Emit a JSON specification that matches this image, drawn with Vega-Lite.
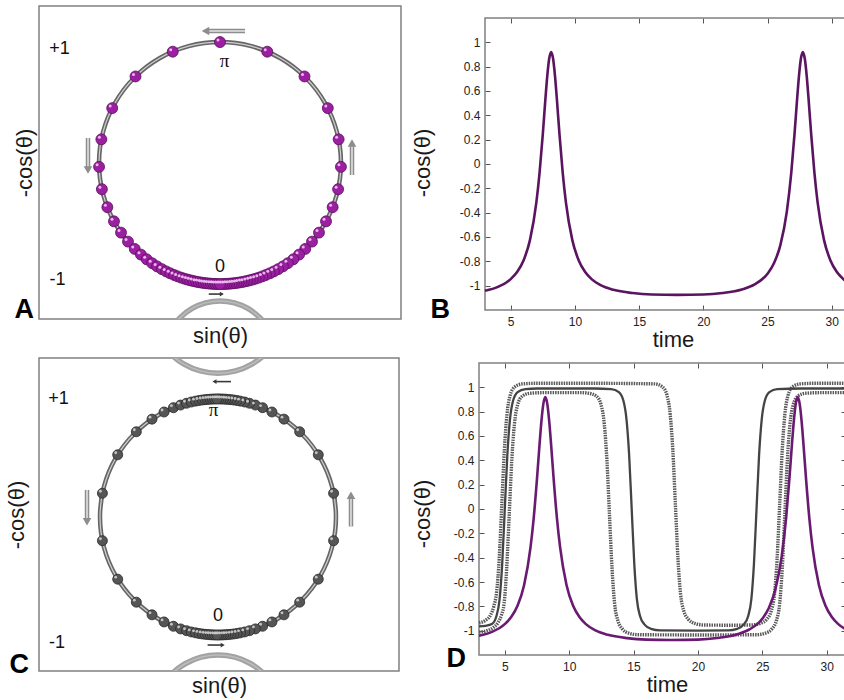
{
"$schema":"https://vega.github.io/schema/vega-lite/v6.json",
"background":"white",
"padding":{"left":4,"top":5,"right":5,"bottom":2},
"config":{
 "font":"Liberation Sans",
 "view":{"stroke":"#808080","strokeWidth":1.5},
 "axis":{"grid":false,"labelFont":"Liberation Sans","titleFont":"Liberation Sans","titleFontWeight":"normal","titleColor":"#1a1a1a","labelColor":"#222222","tickColor":"#555555"}
},
"datasets":{
 "ring":[{"i":0,"x":0,"y":1},{"i":1,"x":0.2588,"y":0.9659},{"i":2,"x":0.5,"y":0.866},{"i":3,"x":0.7071,"y":0.7071},{"i":4,"x":0.866,"y":0.5},{"i":5,"x":0.9659,"y":0.2588},{"i":6,"x":1,"y":0},{"i":7,"x":0.9659,"y":-0.2588},{"i":8,"x":0.866,"y":-0.5},{"i":9,"x":0.7071,"y":-0.7071},{"i":10,"x":0.5,"y":-0.866},{"i":11,"x":0.2588,"y":-0.9659},{"i":12,"x":0,"y":-1},{"i":13,"x":-0.2588,"y":-0.9659},{"i":14,"x":-0.5,"y":-0.866},{"i":15,"x":-0.7071,"y":-0.7071},{"i":16,"x":-0.866,"y":-0.5},{"i":17,"x":-0.9659,"y":-0.2588},{"i":18,"x":-1,"y":0},{"i":19,"x":-0.9659,"y":0.2588},{"i":20,"x":-0.866,"y":0.5},{"i":21,"x":-0.7071,"y":0.7071},{"i":22,"x":-0.5,"y":0.866},{"i":23,"x":-0.2588,"y":0.9659}],
 "arcA":[{"x":-0.4443,"y":-1.481},{"x":-0.3984,"y":-1.37},{"x":-0.3253,"y":-1.2747},{"x":-0.23,"y":-1.2016},{"x":-0.1191,"y":-1.1557},{"x":0,"y":-1.14},{"x":0.1191,"y":-1.1557},{"x":0.23,"y":-1.2016},{"x":0.3253,"y":-1.2747},{"x":0.3984,"y":-1.37},{"x":0.4443,"y":-1.481}],
 "arcC":[{"g":"t","x":-0.5564,"y":1.645},{"g":"t","x":-0.4988,"y":1.506},{"g":"t","x":-0.4073,"y":1.3867},{"g":"t","x":-0.288,"y":1.2952},{"g":"t","x":-0.1491,"y":1.2376},{"g":"t","x":0,"y":1.218},{"g":"t","x":0.1491,"y":1.2376},{"g":"t","x":0.288,"y":1.2952},{"g":"t","x":0.4073,"y":1.3867},{"g":"t","x":0.4988,"y":1.506},{"g":"t","x":0.5564,"y":1.645},
  {"g":"b","x":-0.538,"y":-1.582},{"g":"b","x":-0.4824,"y":-1.4475},{"g":"b","x":-0.3939,"y":-1.3321},{"g":"b","x":-0.2785,"y":-1.2436},{"g":"b","x":-0.1442,"y":-1.188},{"g":"b","x":0,"y":-1.169},{"g":"b","x":0.1442,"y":-1.188},{"g":"b","x":0.2785,"y":-1.2436},{"g":"b","x":0.3939,"y":-1.3321},{"g":"b","x":0.4824,"y":-1.4475},{"g":"b","x":0.538,"y":-1.582}],
 "ballsA":[{"x":0,"y":1},
  {"x":0.3907,"y":0.9205},{"x":-0.3907,"y":0.9205},{"x":0.6984,"y":0.7157},{"x":-0.6984,"y":0.7157},{"x":0.891,"y":0.454},{"x":-0.891,"y":0.454},{"x":0.9806,"y":0.1959},{"x":-0.9806,"y":0.1959},{"x":0.9995,"y":-0.0314},{"x":-0.9995,"y":-0.0314},{"x":0.9763,"y":-0.2164},{"x":-0.9763,"y":-0.2164},{"x":0.9311,"y":-0.3649},{"x":-0.9311,"y":-0.3649},{"x":0.8763,"y":-0.4818},{"x":-0.8763,"y":-0.4818},{"x":0.8181,"y":-0.575},{"x":-0.8181,"y":-0.575},{"x":0.7604,"y":-0.6494},{"x":-0.7604,"y":-0.6494},{"x":0.7046,"y":-0.7096},{"x":-0.7046,"y":-0.7096},{"x":0.6534,"y":-0.757},{"x":-0.6534,"y":-0.757},{"x":0.606,"y":-0.7955},{"x":-0.606,"y":-0.7955},{"x":0.5606,"y":-0.8281},{"x":-0.5606,"y":-0.8281},{"x":0.5195,"y":-0.8545},{"x":-0.5195,"y":-0.8545},{"x":0.4802,"y":-0.8771},{"x":-0.4802,"y":-0.8771},{"x":0.4446,"y":-0.8957},{"x":-0.4446,"y":-0.8957},{"x":0.4115,"y":-0.9114},{"x":-0.4115,"y":-0.9114},{"x":0.3795,"y":-0.9252},{"x":-0.3795,"y":-0.9252},{"x":0.3502,"y":-0.9367},{"x":-0.3502,"y":-0.9367},{"x":0.3206,"y":-0.9472},{"x":-0.3206,"y":-0.9472},{"x":0.294,"y":-0.9558},{"x":-0.294,"y":-0.9558},{"x":0.2689,"y":-0.9632},{"x":-0.2689,"y":-0.9632},{"x":0.2453,"y":-0.9694},{"x":-0.2453,"y":-0.9694},{"x":0.2215,"y":-0.9751},{"x":-0.2215,"y":-0.9751},{"x":0.1977,"y":-0.9803},{"x":-0.1977,"y":-0.9803},{"x":0.1771,"y":-0.9842},{"x":-0.1771,"y":-0.9842},{"x":0.1547,"y":-0.988},{"x":-0.1547,"y":-0.988},{"x":0.1357,"y":-0.9907},{"x":-0.1357,"y":-0.9907},{"x":0.1149,"y":-0.9934},{"x":-0.1149,"y":-0.9934},{"x":0.0958,"y":-0.9954},{"x":-0.0958,"y":-0.9954},{"x":0.075,"y":-0.9972},{"x":-0.075,"y":-0.9972},{"x":0.0558,"y":-0.9984},{"x":-0.0558,"y":-0.9984},{"x":0.0384,"y":-0.9993},{"x":-0.0384,"y":-0.9993},{"x":0.0192,"y":-0.9998},{"x":-0.0192,"y":-0.9998},
  {"x":0,"y":-1}],
 "ballsC":[
  {"x":0.9796,"y":0.2011},{"x":0.9796,"y":-0.2011},{"x":-0.9796,"y":0.2011},{"x":-0.9796,"y":-0.2011},
  {"x":0.8499,"y":0.527},{"x":0.8499,"y":-0.527},{"x":-0.8499,"y":0.527},{"x":-0.8499,"y":-0.527},
  {"x":0.6921,"y":0.7218},{"x":0.6921,"y":-0.7218},{"x":-0.6921,"y":0.7218},{"x":-0.6921,"y":-0.7218},
  {"x":0.5592,"y":0.829},{"x":0.5592,"y":-0.829},{"x":-0.5592,"y":0.829},{"x":-0.5592,"y":-0.829},
  {"x":0.4571,"y":0.8894},{"x":0.4571,"y":-0.8894},{"x":-0.4571,"y":0.8894},{"x":-0.4571,"y":-0.8894},
  {"x":0.3778,"y":0.9259},{"x":0.3778,"y":-0.9259},{"x":-0.3778,"y":0.9259},{"x":-0.3778,"y":-0.9259},
  {"x":0.3173,"y":0.9483},{"x":0.3173,"y":-0.9483},{"x":-0.3173,"y":0.9483},{"x":-0.3173,"y":-0.9483},
  {"x":0.2672,"y":0.9636},{"x":0.2672,"y":-0.9636},{"x":-0.2672,"y":0.9636},{"x":-0.2672,"y":-0.9636},
  {"x":0.2267,"y":0.974},{"x":0.2267,"y":-0.974},{"x":-0.2267,"y":0.974},{"x":-0.2267,"y":-0.974},
  {"x":0.1908,"y":0.9816},{"x":0.1908,"y":-0.9816},{"x":-0.1908,"y":0.9816},{"x":-0.1908,"y":-0.9816},
  {"x":0.1616,"y":0.9869},{"x":0.1616,"y":-0.9869},{"x":-0.1616,"y":0.9869},{"x":-0.1616,"y":-0.9869},
  {"x":0.134,"y":0.991},{"x":0.134,"y":-0.991},{"x":-0.134,"y":0.991},{"x":-0.134,"y":-0.991},
  {"x":0.1097,"y":0.994},{"x":0.1097,"y":-0.994},{"x":-0.1097,"y":0.994},{"x":-0.1097,"y":-0.994},
  {"x":0.0872,"y":0.9962},{"x":0.0872,"y":-0.9962},{"x":-0.0872,"y":0.9962},{"x":-0.0872,"y":-0.9962},
  {"x":0.0663,"y":0.9978},{"x":0.0663,"y":-0.9978},{"x":-0.0663,"y":0.9978},{"x":-0.0663,"y":-0.9978},
  {"x":0.0471,"y":0.9989},{"x":0.0471,"y":-0.9989},{"x":-0.0471,"y":0.9989},{"x":-0.0471,"y":-0.9989},
  {"x":0.0279,"y":0.9996},{"x":0.0279,"y":-0.9996},{"x":-0.0279,"y":0.9996},{"x":-0.0279,"y":-0.9996},
  {"x":0.0087,"y":1},{"x":0.0087,"y":-1},{"x":-0.0087,"y":1},{"x":-0.0087,"y":-1}],
 "shaftsA":[{"x":-0.1,"y":1.091,"x2":0.207,"y2":1.091,"k":"big"},{"x":-1.091,"y":0.207,"x2":-1.091,"y2":-0.04,"k":"big"},{"x":1.091,"y":-0.099,"x2":1.091,"y2":0.15,"k":"big"},{"x":-0.093,"y":-1.083,"x2":0.005,"y2":-1.083,"k":"small"}],
 "headsA":[{"x":-0.12,"y":1.091,"d":"left","k":"big"},{"x":-1.091,"y":-0.058,"d":"down","k":"big"},{"x":1.091,"y":0.165,"d":"up","k":"big"},{"x":0.015,"y":-1.083,"d":"right","k":"small"}],
 "shaftsC":[{"x":-1.11,"y":0.229,"x2":-1.11,"y2":-0.02,"k":"big"},{"x":1.127,"y":-0.08,"x2":1.127,"y2":0.17,"k":"big"},{"x":-0.02,"y":1.147,"x2":0.11,"y2":1.147,"k":"small"},{"x":-0.088,"y":-1.085,"x2":0.03,"y2":-1.085,"k":"small"}],
 "headsC":[{"x":-1.11,"y":-0.04,"d":"down","k":"big"},{"x":1.127,"y":0.185,"d":"up","k":"big"},{"x":-0.03,"y":1.147,"d":"left","k":"small"},{"x":0.04,"y":-1.085,"d":"right","k":"small"}],
 "frame":[{"t":3,"t2":31.5,"v":-1.2,"v2":1.2}],
 "purple":[{"t":3,"v":-1.042},{"t":4,"v":-1.01},{"t":5,"v":-0.946},{"t":5.5,"v":-0.888},{"t":6,"v":-0.793},{"t":6.5,"v":-0.626},{"t":7,"v":-0.316},{"t":7.25,"v":-0.072},{"t":7.5,"v":0.244},{"t":7.7,"v":0.528},{"t":7.85,"v":0.724},{"t":8,"v":0.866},{"t":8.15,"v":0.919},{"t":8.3,"v":0.866},{"t":8.45,"v":0.724},{"t":8.6,"v":0.528},{"t":8.8,"v":0.244},{"t":9.05,"v":-0.072},{"t":9.3,"v":-0.316},{"t":9.8,"v":-0.626},{"t":10.3,"v":-0.793},{"t":10.8,"v":-0.888},{"t":11.3,"v":-0.946},{"t":12,"v":-0.996},{"t":13,"v":-1.034},{"t":14.5,"v":-1.061},{"t":16,"v":-1.073},{"t":17.95,"v":-1.076},{"t":20,"v":-1.073},{"t":21.5,"v":-1.06},{"t":23,"v":-1.031},{"t":24,"v":-0.99},{"t":25,"v":-0.902},{"t":25.5,"v":-0.816},{"t":26,"v":-0.667},{"t":26.5,"v":-0.394},{"t":26.85,"v":-0.072},{"t":27.1,"v":0.244},{"t":27.3,"v":0.528},{"t":27.45,"v":0.724},{"t":27.6,"v":0.866},{"t":27.75,"v":0.919},{"t":27.9,"v":0.866},{"t":28.05,"v":0.724},{"t":28.2,"v":0.528},{"t":28.4,"v":0.244},{"t":28.65,"v":-0.072},{"t":28.9,"v":-0.316},{"t":29.4,"v":-0.626},{"t":29.9,"v":-0.793},{"t":30.4,"v":-0.888},{"t":30.9,"v":-0.946},{"t":31.5,"v":-0.99}],
 "gray":[
  {"c":"a","t":3,"v":-0.935},{"c":"a","t":3.5,"v":-0.915},{"c":"a","t":3.9,"v":-0.87},{"c":"a","t":4.15,"v":-0.8},{"c":"a","t":4.37,"v":-0.68},{"c":"a","t":4.57,"v":-0.408},{"c":"a","t":4.77,"v":0.039},{"c":"a","t":4.97,"v":0.486},{"c":"a","t":5.17,"v":0.775},{"c":"a","t":5.42,"v":0.934},{"c":"a","t":5.77,"v":1.003},{"c":"a","t":6.37,"v":1.028},{"c":"a","t":7.5,"v":1.033},{"c":"a","t":12,"v":1.033},{"c":"a","t":16.65,"v":1.028},{"c":"a","t":17.25,"v":1.003},{"c":"a","t":17.6,"v":0.934},{"c":"a","t":17.85,"v":0.775},{"c":"a","t":18.05,"v":0.486},{"c":"a","t":18.25,"v":0.039},{"c":"a","t":18.45,"v":-0.408},{"c":"a","t":18.65,"v":-0.697},{"c":"a","t":18.9,"v":-0.836},{"c":"a","t":19.25,"v":-0.905},{"c":"a","t":19.75,"v":-0.94},{"c":"a","t":20.45,"v":-0.953},{"c":"a","t":22.5,"v":-0.955},{"c":"a","t":24.15,"v":-0.953},{"c":"a","t":24.85,"v":-0.94},{"c":"a","t":25.35,"v":-0.905},{"c":"a","t":25.7,"v":-0.836},{"c":"a","t":25.95,"v":-0.697},{"c":"a","t":26.15,"v":-0.408},{"c":"a","t":26.35,"v":0.039},{"c":"a","t":26.55,"v":0.486},{"c":"a","t":26.75,"v":0.775},{"c":"a","t":27,"v":0.934},{"c":"a","t":27.35,"v":1.003},{"c":"a","t":27.95,"v":1.028},{"c":"a","t":29,"v":1.033},{"c":"a","t":31.5,"v":1.033},
  {"c":"b","t":3,"v":-0.965},{"c":"b","t":3.5,"v":-0.96},{"c":"b","t":4,"v":-0.945},{"c":"b","t":4.35,"v":-0.881},{"c":"b","t":4.6,"v":-0.741},{"c":"b","t":4.8,"v":-0.453},{"c":"b","t":5,"v":-0.005},{"c":"b","t":5.2,"v":0.443},{"c":"b","t":5.4,"v":0.731},{"c":"b","t":5.65,"v":0.891},{"c":"b","t":6,"v":0.96},{"c":"b","t":6.6,"v":0.985},{"c":"b","t":7.5,"v":0.99},{"c":"b","t":12,"v":0.99},{"c":"b","t":13.26,"v":0.985},{"c":"b","t":13.86,"v":0.96},{"c":"b","t":14.21,"v":0.891},{"c":"b","t":14.46,"v":0.731},{"c":"b","t":14.66,"v":0.443},{"c":"b","t":14.86,"v":-0.005},{"c":"b","t":15.06,"v":-0.453},{"c":"b","t":15.26,"v":-0.741},{"c":"b","t":15.51,"v":-0.881},{"c":"b","t":15.86,"v":-0.95},{"c":"b","t":16.36,"v":-0.985},{"c":"b","t":17.06,"v":-0.998},{"c":"b","t":20,"v":-1},{"c":"b","t":22.35,"v":-0.998},{"c":"b","t":23.05,"v":-0.985},{"c":"b","t":23.55,"v":-0.95},{"c":"b","t":23.9,"v":-0.881},{"c":"b","t":24.15,"v":-0.741},{"c":"b","t":24.35,"v":-0.453},{"c":"b","t":24.55,"v":-0.005},{"c":"b","t":24.75,"v":0.443},{"c":"b","t":24.95,"v":0.731},{"c":"b","t":25.2,"v":0.891},{"c":"b","t":25.55,"v":0.96},{"c":"b","t":26.15,"v":0.985},{"c":"b","t":28,"v":0.99},{"c":"b","t":31.5,"v":0.99},
  {"c":"c","t":3,"v":-1.012},{"c":"c","t":3.6,"v":-1},{"c":"c","t":4.1,"v":-0.975},{"c":"c","t":4.5,"v":-0.93},{"c":"c","t":4.75,"v":-0.87},{"c":"c","t":4.95,"v":-0.776},{"c":"c","t":5.15,"v":-0.487},{"c":"c","t":5.35,"v":-0.04},{"c":"c","t":5.55,"v":0.408},{"c":"c","t":5.75,"v":0.697},{"c":"c","t":6,"v":0.856},{"c":"c","t":6.35,"v":0.926},{"c":"c","t":6.95,"v":0.951},{"c":"c","t":8,"v":0.956},{"c":"c","t":11,"v":0.956},{"c":"c","t":11.53,"v":0.951},{"c":"c","t":12.13,"v":0.926},{"c":"c","t":12.48,"v":0.856},{"c":"c","t":12.73,"v":0.697},{"c":"c","t":12.93,"v":0.408},{"c":"c","t":13.13,"v":-0.04},{"c":"c","t":13.33,"v":-0.487},{"c":"c","t":13.53,"v":-0.776},{"c":"c","t":13.78,"v":-0.916},{"c":"c","t":14.13,"v":-0.985},{"c":"c","t":14.63,"v":-1.02},{"c":"c","t":15.33,"v":-1.033},{"c":"c","t":20,"v":-1.035},{"c":"c","t":24.55,"v":-1.033},{"c":"c","t":25.25,"v":-1.02},{"c":"c","t":25.75,"v":-0.985},{"c":"c","t":26.1,"v":-0.916},{"c":"c","t":26.35,"v":-0.776},{"c":"c","t":26.55,"v":-0.487},{"c":"c","t":26.75,"v":-0.04},{"c":"c","t":26.95,"v":0.408},{"c":"c","t":27.15,"v":0.697},{"c":"c","t":27.4,"v":0.856},{"c":"c","t":27.75,"v":0.926},{"c":"c","t":28.35,"v":0.951},{"c":"c","t":29.5,"v":0.956},{"c":"c","t":31.5,"v":0.956}]
},
"columns":2,
"align":"none",
"spacing":{"row":7,"column":9},
"concat":[
  {"width":362,"height":313,
   "encoding":{
    "x":{"field":"x","type":"quantitative","scale":{"domain":[-1.496,1.496],"nice":false,"zero":false},"axis":{"title":"sin(θ)","labels":false,"ticks":false,"domain":false,"titleFontSize":22,"titlePadding":6}},
    "y":{"field":"y","type":"quantitative","scale":{"domain":[-1.289,1.298],"nice":false,"zero":false},"axis":{"title":"-cos(θ)","labels":false,"ticks":false,"domain":false,"titleFontSize":22,"titlePadding":3}}
   },
   "layer":[
    {"data":{"name":"arcA"},"mark":{"type":"line","interpolate":"cardinal","clip":true,"stroke":"#a2a2a2","strokeWidth":5.5}},
    {"data":{"name":"arcA"},"mark":{"type":"line","interpolate":"cardinal","clip":true,"stroke":"#bcbcbc","strokeWidth":1.5}},
    {"data":{"name":"ring"},"mark":{"type":"line","interpolate":"cardinal-closed","stroke":"#666666","strokeWidth":4.5},"encoding":{"order":{"field":"i","type":"quantitative"}}},
    {"data":{"name":"ring"},"mark":{"type":"line","interpolate":"cardinal-closed","stroke":"#d0d0d0","strokeWidth":1.2},"encoding":{"order":{"field":"i","type":"quantitative"}}},
    {"data":{"name":"ballsA"},"mark":{"type":"point","filled":true,"fill":"#9b1fa1","stroke":"#5a0c5e","strokeWidth":0.8,"size":120,"opacity":1}},
    {"data":{"name":"ballsA"},"mark":{"type":"point","filled":true,"fill":"#f3c6f5","size":9,"xOffset":-2,"yOffset":-2,"opacity":0.9}},
    {"data":{"name":"shaftsA"},"transform":[{"filter":"datum.k=='big'"}],"mark":{"type":"rule","stroke":"#8d8d8d","strokeWidth":4.5},"encoding":{"x2":{"field":"x2"},"y2":{"field":"y2"}}},
    {"data":{"name":"shaftsA"},"transform":[{"filter":"datum.k=='big'"}],"mark":{"type":"rule","stroke":"#e6e6e6","strokeWidth":1.5},"encoding":{"x2":{"field":"x2"},"y2":{"field":"y2"}}},
    {"data":{"name":"shaftsA"},"transform":[{"filter":"datum.k=='small'"}],"mark":{"type":"rule","stroke":"#3a3a3a","strokeWidth":1.6},"encoding":{"x2":{"field":"x2"},"y2":{"field":"y2"}}},
    {"data":{"name":"headsA"},"transform":[{"filter":"datum.k=='big'"}],"mark":{"type":"point","filled":true,"fill":"#8d8d8d","size":75,"opacity":1},"encoding":{"shape":{"field":"d","type":"nominal","scale":{"domain":["left","right","up","down"],"range":["triangle-left","triangle-right","triangle-up","triangle-down"]},"legend":null}}},
    {"data":{"name":"headsA"},"transform":[{"filter":"datum.k=='small'"}],"mark":{"type":"point","filled":true,"fill":"#3a3a3a","size":22,"opacity":1},"encoding":{"shape":{"field":"d","type":"nominal","scale":{"domain":["left","right","up","down"],"range":["triangle-left","triangle-right","triangle-up","triangle-down"]},"legend":null}}},
    {"data":{"values":[{"x":-1.326,"y":0.946,"s":"+1"},{"x":-1.343,"y":-0.967,"s":"-1"},{"x":0,"y":-0.86,"s":"0"}]},"mark":{"type":"text","fontSize":18,"color":"#111111"},"encoding":{"text":{"field":"s"}}},
    {"data":{"values":[{"x":0.037,"y":0.843,"s":"π"}]},"mark":{"type":"text","fontSize":19,"font":"Liberation Serif","color":"#111111"},"encoding":{"text":{"field":"s"}}},
    {"data":{"values":[{"x":-1.496,"y":-1.289,"s":"A"}]},"mark":{"type":"text","align":"right","baseline":"alphabetic","fontSize":27,"fontWeight":"bold","dx":-5,"dy":-1,"color":"#000000"},"encoding":{"text":{"field":"s"}}}
   ]
  },
  {"width":366,"height":313,
   "view":{"stroke":null},
   "layer":[
    {"data":{"name":"frame"},"mark":{"type":"rect","fillOpacity":0,"stroke":"#808080","strokeWidth":1.5},
     "encoding":{"x":{"field":"t","type":"quantitative","axis":null},"x2":{"field":"t2"},"y":{"field":"v","type":"quantitative","axis":null},"y2":{"field":"v2"}}},
    {"data":{"name":"purple"},"mark":{"type":"line","interpolate":"monotone","stroke":"#5a1460","strokeWidth":2.6},
     "encoding":{
      "x":{"field":"t","type":"quantitative","scale":{"domain":[3,31.5],"nice":false,"zero":false},"axis":{"values":[5,10,15,20,25,30],"offset":-9,"title":"time","titleFontSize":22,"titleX":188,"titlePadding":2,"labelFontSize":12,"labelPadding":11,"tickSize":-5,"domain":false}},
      "y":{"field":"v","type":"quantitative","scale":{"domain":[-1.274,1.298],"nice":false,"zero":false},"axis":{"values":[-1,-0.8,-0.6,-0.4,-0.2,0,0.2,0.4,0.6,0.8,1],"labelExpr":"'' + datum.value","title":"-cos(θ)","titleFontSize":22,"titlePadding":25,"labelFontSize":12,"labelPadding":10,"tickSize":-5,"domain":false}}
     }},
    {"data":{"name":"purple"},"mark":{"type":"point","opacity":0},
     "encoding":{
      "x":{"field":"t","type":"quantitative","axis":{"orient":"top","offset":-12,"values":[5,10,15,20,25,30],"labels":false,"title":null,"tickSize":-5,"domain":false}},
      "y":{"field":"v","type":"quantitative","axis":{"orient":"right","values":[-1,-0.8,-0.6,-0.4,-0.2,0,0.2,0.4,0.6,0.8,1],"labels":false,"title":null,"tickSize":-5,"domain":false}}
     }},
    {"data":{"values":[{"t":3,"v":-1.2,"s":"B"}]},"mark":{"type":"text","align":"right","baseline":"alphabetic","fontSize":27,"fontWeight":"bold","dx":-35,"dy":8,"color":"#000000"},
     "encoding":{"x":{"field":"t","type":"quantitative","axis":null},"y":{"field":"v","type":"quantitative","axis":null},"text":{"field":"s"}}}
   ],
   "resolve":{"axis":{"x":"independent","y":"independent"}}
  },
  {"width":360,"height":313,
   "encoding":{
    "x":{"field":"x","type":"quantitative","scale":{"domain":[-1.517,1.534],"nice":false,"zero":false},"axis":{"title":"sin(θ)","labels":false,"ticks":false,"domain":false,"titleFontSize":22,"titlePadding":4}},
    "y":{"field":"y","type":"quantitative","scale":{"domain":[-1.305,1.347],"nice":false,"zero":false},"axis":{"title":"-cos(θ)","labels":false,"ticks":false,"domain":false,"titleFontSize":22,"titlePadding":11}}
   },
   "layer":[
    {"data":{"name":"arcC"},"mark":{"type":"line","interpolate":"cardinal","clip":true,"stroke":"#a2a2a2","strokeWidth":5.5},"encoding":{"detail":{"field":"g"}}},
    {"data":{"name":"arcC"},"mark":{"type":"line","interpolate":"cardinal","clip":true,"stroke":"#bcbcbc","strokeWidth":1.5},"encoding":{"detail":{"field":"g"}}},
    {"data":{"name":"ring"},"mark":{"type":"line","interpolate":"cardinal-closed","stroke":"#666666","strokeWidth":4.5},"encoding":{"order":{"field":"i","type":"quantitative"}}},
    {"data":{"name":"ring"},"mark":{"type":"line","interpolate":"cardinal-closed","stroke":"#d0d0d0","strokeWidth":1.2},"encoding":{"order":{"field":"i","type":"quantitative"}}},
    {"data":{"name":"ballsC"},"mark":{"type":"point","filled":true,"fill":"#555555","stroke":"#2a2a2a","strokeWidth":0.8,"size":100,"opacity":1}},
    {"data":{"name":"ballsC"},"mark":{"type":"point","filled":true,"fill":"#d0d0d0","size":8,"xOffset":-2,"yOffset":-2,"opacity":0.9}},
    {"data":{"name":"shaftsC"},"transform":[{"filter":"datum.k=='big'"}],"mark":{"type":"rule","stroke":"#8d8d8d","strokeWidth":4.5},"encoding":{"x2":{"field":"x2"},"y2":{"field":"y2"}}},
    {"data":{"name":"shaftsC"},"transform":[{"filter":"datum.k=='big'"}],"mark":{"type":"rule","stroke":"#e6e6e6","strokeWidth":1.5},"encoding":{"x2":{"field":"x2"},"y2":{"field":"y2"}}},
    {"data":{"name":"shaftsC"},"transform":[{"filter":"datum.k=='small'"}],"mark":{"type":"rule","stroke":"#3a3a3a","strokeWidth":1.6},"encoding":{"x2":{"field":"x2"},"y2":{"field":"y2"}}},
    {"data":{"name":"headsC"},"transform":[{"filter":"datum.k=='big'"}],"mark":{"type":"point","filled":true,"fill":"#8d8d8d","size":75,"opacity":1},"encoding":{"shape":{"field":"d","type":"nominal","scale":{"domain":["left","right","up","down"],"range":["triangle-left","triangle-right","triangle-up","triangle-down"]},"legend":null}}},
    {"data":{"name":"headsC"},"transform":[{"filter":"datum.k=='small'"}],"mark":{"type":"point","filled":true,"fill":"#3a3a3a","size":22,"opacity":1},"encoding":{"shape":{"field":"d","type":"nominal","scale":{"domain":["left","right","up","down"],"range":["triangle-left","triangle-right","triangle-up","triangle-down"]},"legend":null}}},
    {"data":{"values":[{"x":-1.352,"y":1.0,"s":"+1"},{"x":-1.364,"y":-1.068,"s":"-1"},{"x":0,"y":-0.843,"s":"0"}]},"mark":{"type":"text","fontSize":18,"color":"#111111"},"encoding":{"text":{"field":"s"}}},
    {"data":{"values":[{"x":-0.038,"y":0.907,"s":"π"}]},"mark":{"type":"text","fontSize":19,"font":"Liberation Serif","color":"#111111"},"encoding":{"text":{"field":"s"}}},
    {"data":{"values":[{"x":-1.517,"y":-1.305,"s":"C"}]},"mark":{"type":"text","align":"right","baseline":"alphabetic","fontSize":27,"fontWeight":"bold","dx":-10,"dy":2,"color":"#000000"},"encoding":{"text":{"field":"s"}}}
   ]
  },
  {"width":367,"height":313,
   "view":{"stroke":null},
   "layer":[
    {"data":{"name":"frame"},"mark":{"type":"rect","fillOpacity":0,"stroke":"#808080","strokeWidth":1.5},
     "encoding":{"x":{"field":"t","type":"quantitative","axis":null},"x2":{"field":"t2"},"y":{"field":"v","type":"quantitative","axis":null},"y2":{"field":"v2"}}},
    {"data":{"name":"gray"},"transform":[{"filter":"datum.c!='b'"}],"mark":{"type":"line","interpolate":"monotone","stroke":"#585858","strokeWidth":3.4,"strokeDash":[1.5,1]},
     "encoding":{
      "x":{"field":"t","type":"quantitative","scale":{"domain":[3,31.5],"nice":false,"zero":false},"axis":{"values":[5,10,15,20,25,30],"offset":-15,"title":"time","titleFontSize":22,"titleX":188,"titlePadding":2,"labelFontSize":12,"labelPadding":11,"tickSize":-5,"domain":false}},
      "y":{"field":"v","type":"quantitative","scale":{"domain":[-1.323,1.249],"nice":false,"zero":false},"axis":{"values":[-1,-0.8,-0.6,-0.4,-0.2,0,0.2,0.4,0.6,0.8,1],"labelExpr":"'' + datum.value","title":"-cos(θ)","titleFontSize":22,"titlePadding":19,"labelFontSize":12,"labelPadding":10,"tickSize":-5,"domain":false}},
      "detail":{"field":"c"}
     }},
    {"data":{"name":"gray"},"transform":[{"filter":"datum.c=='b'"}],"mark":{"type":"line","interpolate":"monotone","stroke":"#444444","strokeWidth":2.3},
     "encoding":{"x":{"field":"t","type":"quantitative","axis":null},"y":{"field":"v","type":"quantitative","axis":null}}},
    {"data":{"name":"purple"},"mark":{"type":"line","interpolate":"monotone","stroke":"#6a1a70","strokeWidth":2.6},
     "encoding":{"x":{"field":"t","type":"quantitative","axis":null},"y":{"field":"v","type":"quantitative","axis":null}}},
    {"data":{"name":"purple"},"mark":{"type":"point","opacity":0},
     "encoding":{
      "x":{"field":"t","type":"quantitative","axis":{"orient":"top","offset":-6,"values":[5,10,15,20,25,30],"labels":false,"title":null,"tickSize":-5,"domain":false}},
      "y":{"field":"v","type":"quantitative","axis":{"orient":"right","values":[-1,-0.8,-0.6,-0.4,-0.2,0,0.2,0.4,0.6,0.8,1],"labels":false,"title":null,"tickSize":-5,"domain":false}}
     }},
    {"data":{"values":[{"t":3,"v":-1.2,"s":"D"}]},"mark":{"type":"text","align":"right","baseline":"alphabetic","fontSize":27,"fontWeight":"bold","dx":-13,"dy":12,"color":"#000000"},
     "encoding":{"x":{"field":"t","type":"quantitative","axis":null},"y":{"field":"v","type":"quantitative","axis":null},"text":{"field":"s"}}}
   ],
   "resolve":{"axis":{"x":"independent","y":"independent"}}
  }
]
}
